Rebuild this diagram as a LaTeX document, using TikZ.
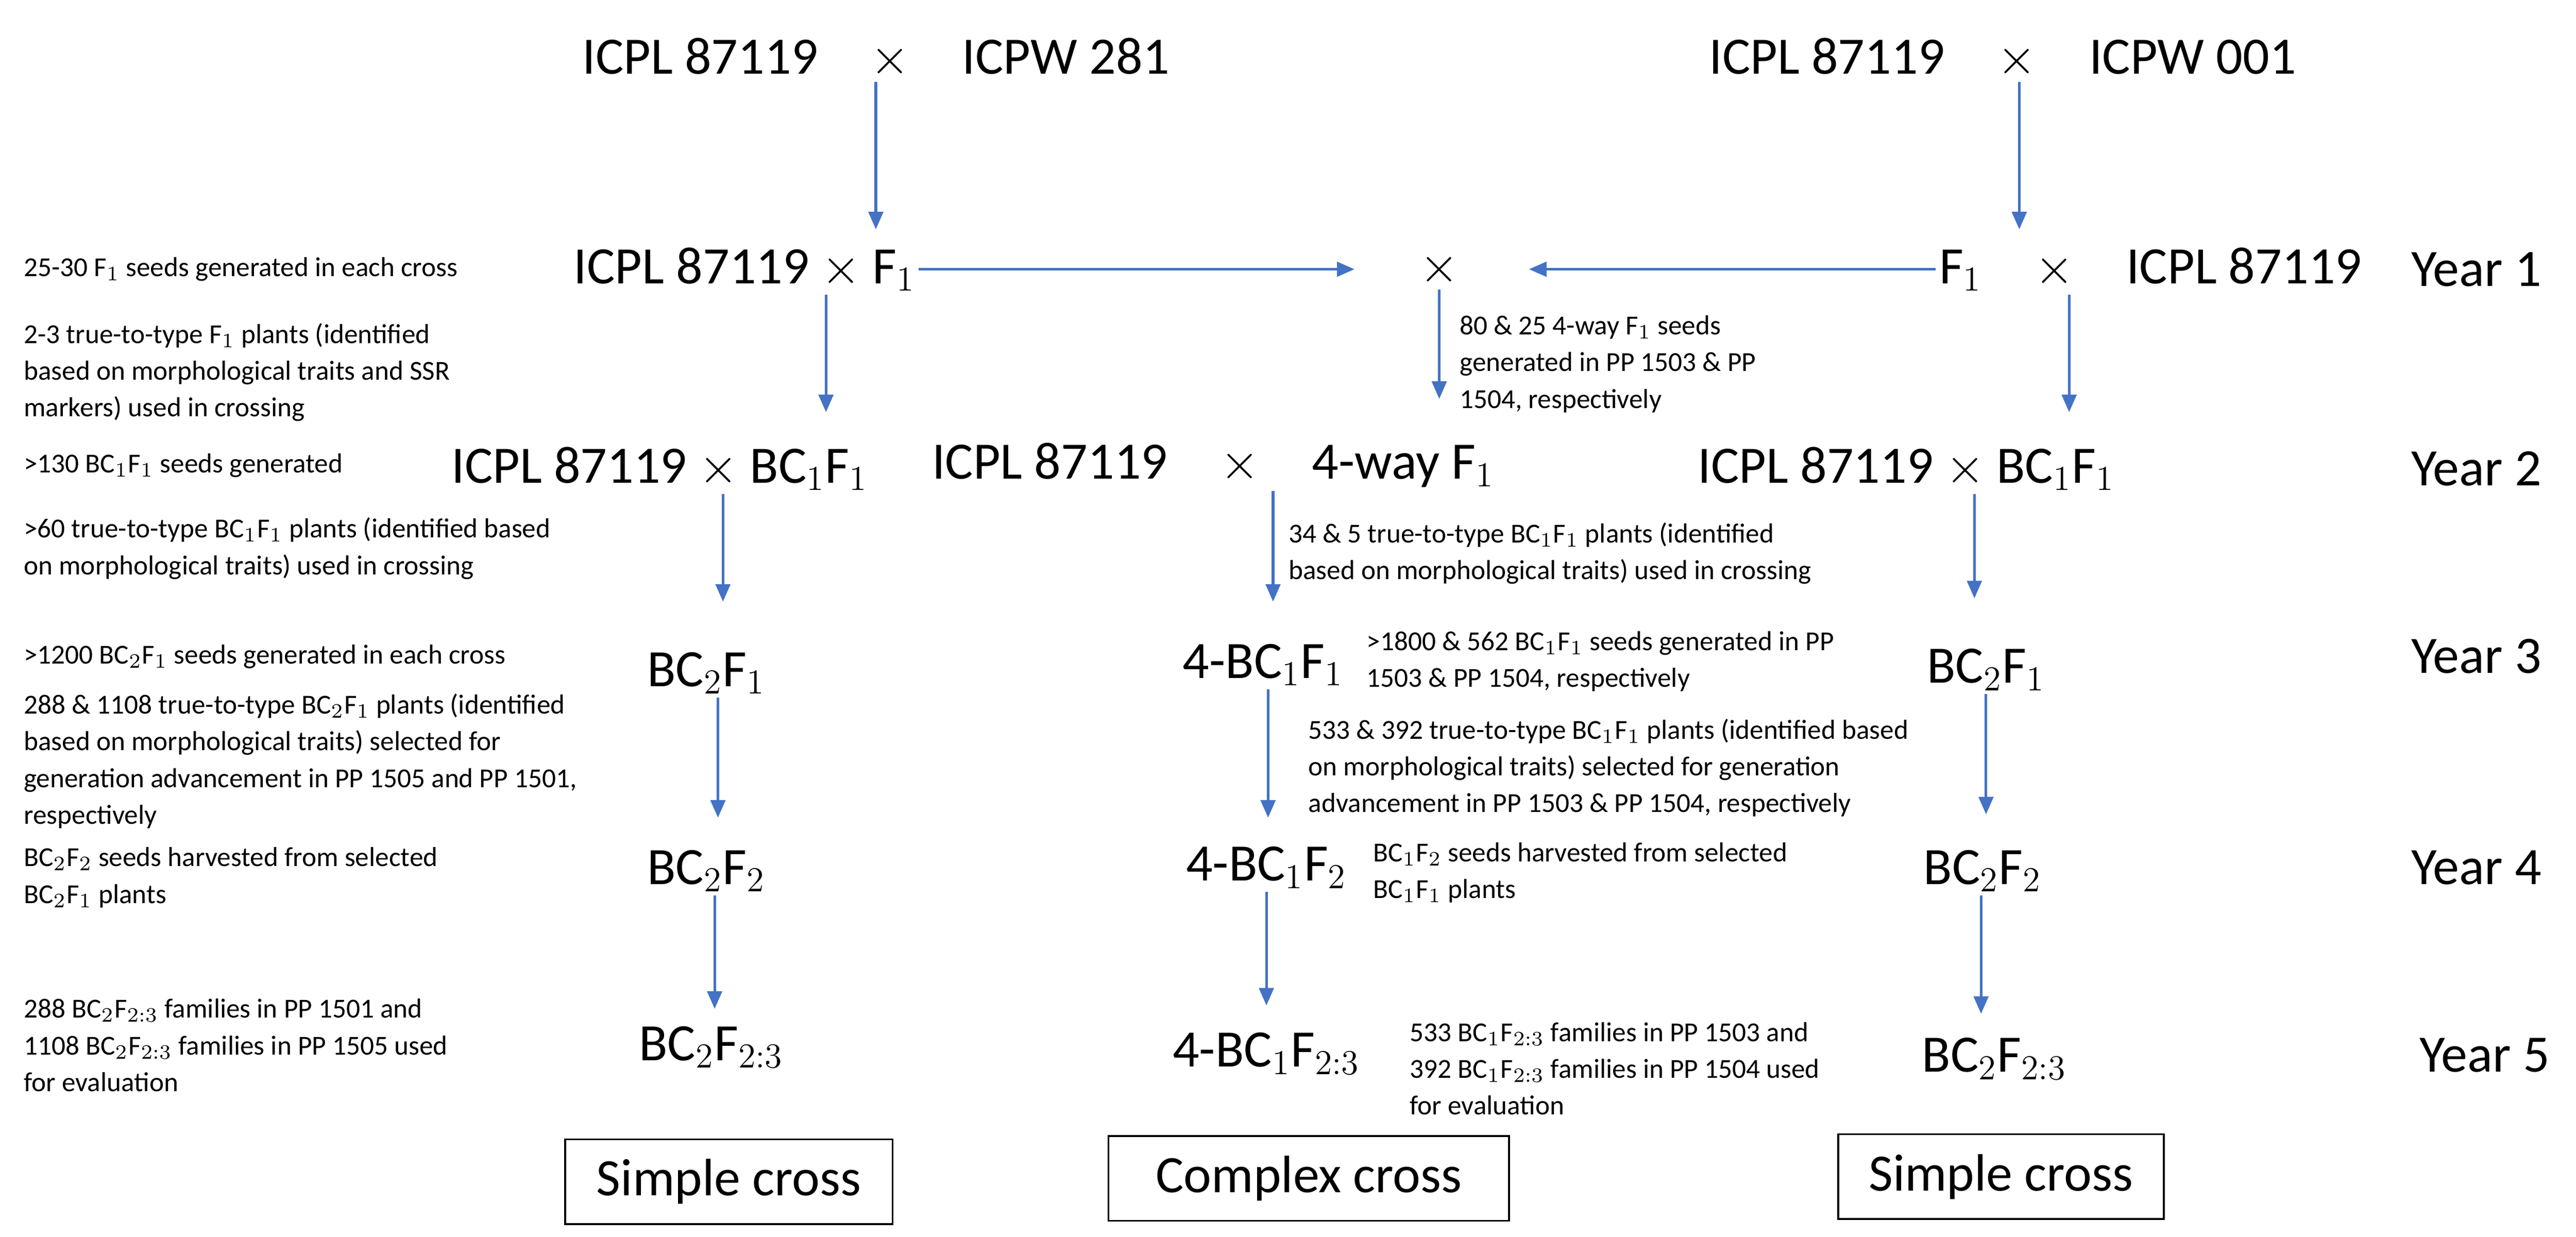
\documentclass[tikz,border=0pt]{standalone}
\usepackage{fontspec}
\setmainfont{Carlito}
\usetikzlibrary{arrows.meta}
\definecolor{ab}{HTML}{4472C4}
\begin{document}
\begin{tikzpicture}[x=0.02cm,y=-0.02cm,
 big/.style={font=\fontsize{18}{21}\selectfont,inner sep=1pt},
 sm/.style={font=\fontsize{9.4}{12.6}\selectfont,align=left,anchor=west,inner sep=0pt},
 ar/.style={draw=ab,line width=0.9pt,-{Triangle[length=6pt,width=5pt]}},
 box/.style={draw,line width=0.6pt,font=\fontsize{18}{21}\selectfont,minimum height=1.02cm}]
\useasboundingbox (0,0) rectangle (1550,744);
% top
\node[big] (t1) at (527,35) {ICPL 87119\quad$\times$\quad ICPW 281};
\node[big] (t2) at (1205,35) {ICPL 87119\quad$\times$\quad ICPW 001};
% row1
\node[big] (a1) at (448,162) {ICPL 87119 $\times$ F$_1$};
\node[big] (x1) at (866,162) {$\times$};
\node[big] (c1) at (1294,162) {F$_1$\quad$\times$\quad ICPL 87119};
\node[big] (y1) at (1490,162) {Year 1};
% row2
\node[big] (a2) at (397,282) {ICPL 87119 $\times$ BC$_1$F$_1$};
\node[big] (b2) at (730,280) {ICPL 87119\quad$\times$\quad 4-way F$_1$};
\node[big] (c2) at (1147,282) {ICPL 87119 $\times$ BC$_1$F$_1$};
\node[big] (y2) at (1490,282) {Year 2};
% row3
\node[big] (a3) at (425,405) {BC$_2$F$_1$};
\node[big] (b3) at (760,400) {4-BC$_1$F$_1$};
\node[big] (c3) at (1195,403) {BC$_2$F$_1$};
\node[big] (y3) at (1490,395) {Year 3};
% row4
\node[big] (a4) at (425,524) {BC$_2$F$_2$};
\node[big] (b4) at (762,522) {4-BC$_1$F$_2$};
\node[big] (c4) at (1193,524) {BC$_2$F$_2$};
\node[big] (y4) at (1490,522) {Year 4};
% row5
\node[big] (a5) at (428,630) {BC$_2$F$_{2:3}$};
\node[big] (b5) at (762,634) {4-BC$_1$F$_{2:3}$};
\node[big] (c5) at (1200,637) {BC$_2$F$_{2:3}$};
\node[big] (y5) at (1495,635) {Year 5};
% boxes
\node[box,minimum width=3.94cm] (s1) at (438.5,711) {Simple cross};
\node[box,minimum width=4.82cm] (s2) at (787.5,709) {Complex cross};
\node[box,minimum width=3.92cm] (s3) at (1204,708) {Simple cross};
% arrows
\coordinate (p1) at (527,138); \draw[ar] (t1.south -| p1) -- (p1);
\coordinate (p2) at (1215,138); \draw[ar] (t2.south -| p2) -- (p2);
\draw[ar] (a1.east) -- (815,162) coordinate (q1);
\draw[ar] (c1.west) -- (920,162) coordinate (q2);
\coordinate (r1) at (497,248); \draw[ar] (a1.south -| r1) -- (r1);
\coordinate (r2) at (866,240); \draw[ar] (x1.south) -- (r2);
\coordinate (r3) at (1245,248); \draw[ar] (c1.south -| r3) -- (r3);
\coordinate (r4) at (435,362); \draw[ar] (a2.south -| r4) -- (r4);
\coordinate (r5) at (766,362); \draw[ar] (b2.south -| r5) -- (r5);
\coordinate (r6) at (1188,360); \draw[ar] (c2.south -| r6) -- (r6);
\coordinate (r7) at (432,492); \draw[ar] (a3.south -| r7) -- (r7);
\coordinate (r8) at (763,492); \draw[ar] (b3.south -| r8) -- (r8);
\coordinate (r9) at (1195,490); \draw[ar] (c3.south -| r9) -- (r9);
\coordinate (r10) at (430,607); \draw[ar] (a4.south -| r10) -- (r10);
\coordinate (r11) at (762,605); \draw[ar] (b4.south -| r11) -- (r11);
\coordinate (r12) at (1192,610); \draw[ar] (c4.south -| r12) -- (r12);
% left notes
\node[sm] (n1) at (14,162) {25-30 F$_1$ seeds generated in each cross};
\node[sm] (n2) at (14,224) {2-3 true-to-type F$_1$ plants (identified\\based on morphological traits and SSR\\markers) used in crossing};
\node[sm] (n3) at (14,280) {>130 BC$_1$F$_1$ seeds generated};
\node[sm] (n4) at (14,330) {>60 true-to-type BC$_1$F$_1$ plants (identified based\\on morphological traits) used in crossing};
\node[sm] (n5) at (14,395) {>1200 BC$_2$F$_1$ seeds generated in each cross};
\node[sm] (n6) at (14,458) {288 \& 1108 true-to-type BC$_2$F$_1$ plants (identified\\based on morphological traits) selected for\\generation advancement in PP 1505 and PP 1501,\\respectively};
\node[sm] (n7) at (14,528) {BC$_2$F$_2$ seeds harvested from selected\\BC$_2$F$_1$ plants};
\node[sm] (n8) at (14,629) {288 BC$_2$F$_{2:3}$ families in PP 1501 and\\1108 BC$_2$F$_{2:3}$ families in PP 1505 used\\for evaluation};
% middle notes
\node[sm] (m1) at (878,219) {80 \& 25 4-way F$_1$ seeds\\generated in PP 1503 \& PP\\1504, respectively};
\node[sm] (m2) at (775,333) {34 \& 5 true-to-type BC$_1$F$_1$ plants (identified\\based on morphological traits) used in crossing};
\node[sm] (m3) at (822,398) {>1800 \& 562 BC$_1$F$_1$ seeds generated in PP\\1503 \& PP 1504, respectively};
\node[sm] (m4) at (787,462) {533 \& 392 true-to-type BC$_1$F$_1$ plants (identified based\\on morphological traits) selected for generation\\advancement in PP 1503 \& PP 1504, respectively};
\node[sm] (m5) at (826,525) {BC$_1$F$_2$ seeds harvested from selected\\BC$_1$F$_1$ plants};
\node[sm] (m6) at (848,643) {533 BC$_1$F$_{2:3}$ families in PP 1503 and\\392 BC$_1$F$_{2:3}$ families in PP 1504 used\\for evaluation};
\end{tikzpicture}
\end{document}
